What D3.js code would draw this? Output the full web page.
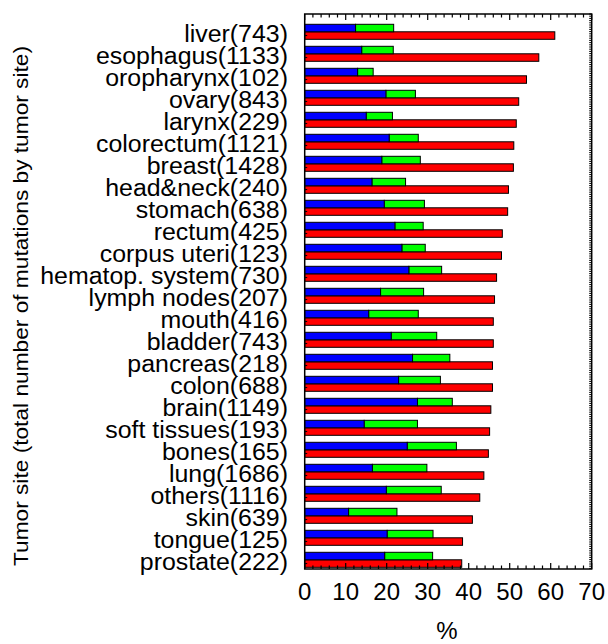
<!DOCTYPE html>
<html>
<head>
<meta charset="utf-8">
<script src="https://cdn.jsdelivr.net/npm/d3@7/dist/d3.min.js"></script>
<style>
  body { margin: 0; background: #fff; }
  svg { display: block; font-family: "Liberation Sans", Arial, Helvetica, sans-serif; }
</style>
</head>
<body>
<svg id="chart" width="608" height="644"></svg>
<script>
// tumor sites, top to bottom
const sites = ['liver(743)', 'esophagus(1133)', 'oropharynx(102)', 'ovary(843)', 'larynx(229)',
  'colorectum(1121)', 'breast(1428)', 'head&neck(240)', 'stomach(638)', 'rectum(425)',
  'corpus uteri(123)', 'hematop. system(730)', 'lymph nodes(207)', 'mouth(416)', 'bladder(743)',
  'pancreas(218)', 'colon(688)', 'brain(1149)', 'soft tissues(193)', 'bones(165)',
  'lung(1686)', 'others(1116)', 'skin(639)', 'tongue(125)', 'prostate(222)'];

// blue segment end, green segment end (stacked), red bar
const blueVals  = [12.4, 13.9, 12.9, 19.8, 15.0, 20.6, 18.8, 16.4, 19.4, 22.0,
  23.7, 25.4, 18.5, 15.6, 21.1, 26.3, 22.9, 27.5, 14.5, 25.0,
  16.5, 19.9, 10.7, 20.1, 19.5];
const greenVals = [21.7, 21.6, 16.7, 27.0, 21.4, 27.7, 28.2, 24.6, 29.2, 28.9,
  29.4, 33.4, 29.0, 27.7, 32.2, 35.4, 33.1, 36.0, 27.5, 37.0,
  29.8, 33.3, 22.5, 31.3, 31.2];
const redVals   = [61.0, 57.1, 54.1, 52.2, 51.6, 51.0, 50.9, 49.7, 49.5, 48.2,
  48.0, 46.8, 46.3, 46.0, 46.0, 45.8, 45.8, 45.4, 45.1, 44.8,
  43.7, 42.7, 40.9, 38.5, 38.3];

const xTicks = [0, 10, 20, 30, 40, 50, 60, 70];

const svg = d3.select('#chart');
const L = 304.7, R = 591.7, T = 14, B = 569;

const x = d3.scaleLinear().domain([0, 70]).range([L, R]);
const y = d3.scaleBand().domain(sites).range([20.8, 570.8])
  .paddingInner(0.318).paddingOuter(0.159);
const half = y.bandwidth() / 2;

const rows = sites.map((s, i) => ({ site: s, blue: blueVals[i], green: greenVals[i], red: redVals[i] }));

const g = svg.append('g');

// red bars (lower half)
g.selectAll('rect.red').data(rows).enter().append('rect')
  .attr('x', x(0)).attr('y', d => y(d.site) + half)
  .attr('width', d => x(d.red) - x(0)).attr('height', half)
  .attr('fill', '#ff0000').attr('stroke', '#000').attr('stroke-width', 1);

// green (stacked on blue)
g.selectAll('rect.green').data(rows).enter().append('rect')
  .attr('x', d => x(d.blue)).attr('y', d => y(d.site))
  .attr('width', d => x(d.green) - x(d.blue)).attr('height', half)
  .attr('fill', '#00ff00').attr('stroke', '#000').attr('stroke-width', 1);

// blue
g.selectAll('rect.blue').data(rows).enter().append('rect')
  .attr('x', x(0)).attr('y', d => y(d.site))
  .attr('width', d => x(d.blue) - x(0)).attr('height', half)
  .attr('fill', '#0000ff').attr('stroke', '#000').attr('stroke-width', 1);

// frame
svg.append('rect').attr('x', L).attr('y', T).attr('width', R - L).attr('height', B - T)
  .attr('fill', 'none').attr('stroke', '#000').attr('stroke-width', 1.5);

// top & bottom ticks, inward
const minor = d3.range(0, 71, 2);
[[T, 1], [B, -1]].forEach(([yy, dir]) => {
  svg.append('g').selectAll('line').data(minor).enter().append('line')
    .attr('x1', d => x(d)).attr('x2', d => x(d))
    .attr('y1', yy).attr('y2', d => yy + dir * (d % 10 === 0 ? 6 : 3.5))
    .attr('stroke', '#000').attr('stroke-width', 1.2);
});

// right edge: dense inward ticks
svg.append('g').selectAll('line').data(d3.range(T, B, 2.2)).enter().append('line')
  .attr('x1', R).attr('x2', R - 2.5).attr('y1', d => d).attr('y2', d => d)
  .attr('stroke', '#000').attr('stroke-width', 1);

// left edge ticks
svg.append('g').selectAll('line').data(rows).enter().append('line')
  .attr('x1', L).attr('x2', L + 2.5)
  .attr('y1', d => y(d.site) + half * 1.5).attr('y2', d => y(d.site) + half * 1.5)
  .attr('stroke', '#000').attr('stroke-width', 1);

// x tick labels
svg.append('g').selectAll('text').data(xTicks).enter().append('text')
  .attr('x', d => x(d)).attr('y', 600)
  .attr('text-anchor', 'middle').attr('font-size', 24).text(d => d);

// category labels (slightly wide glyphs, as in the original)
svg.append('g').selectAll('text').data(rows).enter().append('text')
  .attr('x', 288).attr('y', d => y(d.site) + half + 10.5)
  .attr('text-anchor', 'end').attr('font-size', 23.5)
  .text(d => d.site)
  .each(function() {
    const w = this.getComputedTextLength();
    d3.select(this).attr('textLength', w * 1.06).attr('lengthAdjust', 'spacingAndGlyphs');
  });

// axis titles
svg.append('text').attr('x', 447).attr('y', 639).attr('text-anchor', 'middle')
  .attr('font-size', 24).text('%');
svg.append('text').attr('transform', 'translate(28,306) rotate(-90)')
  .attr('text-anchor', 'middle').attr('font-size', 20.5)
  .attr('textLength', 520).attr('lengthAdjust', 'spacingAndGlyphs')
  .text('Tumor site (total number of mutations by tumor site)');
</script>
</body>
</html>
